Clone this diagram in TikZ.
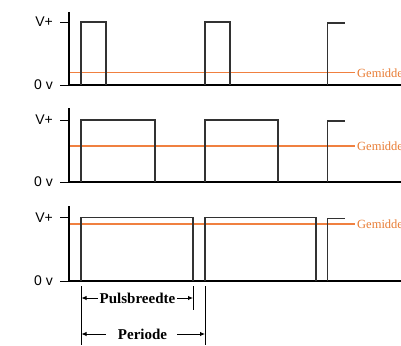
\documentclass[tikz,border=0pt]{standalone}
\usepackage{fontspec}
\setmainfont{Liberation Serif}
\newfontfamily\labelsans{Liberation Sans}
\usetikzlibrary{arrows.meta}
\definecolor{avgline}{RGB}{240,128,64}
\definecolor{avgtext}{RGB}{232,124,52}
\definecolor{wave}{RGB}{50,50,50}
\tikzset{
  axisline/.style={draw=black,line width=2.4pt},
  tickline/.style={draw=black,line width=0.9pt},
  waveline/.style={draw=wave,line width=1.1pt,line join=miter},
  meanline/.style={draw=avgline,line width=1.3pt},
  meanlabel/.style={text=avgtext,anchor=west,inner sep=0pt,font=\fontsize{12.5}{14}\selectfont},
  levellabel/.style={text=black,anchor=east,inner sep=0pt,font=\labelsans\fontsize{14}{16}\selectfont},
  dimlabel/.style={text=black,inner sep=0pt,font=\bfseries\fontsize{15}{17}\selectfont},
  dimline/.style={draw=black,line width=0.9pt},
  dimarrow/.style={draw=black,fill=black,line width=0.9pt,-{Latex[length=5pt,width=4.5pt]}}
}
\begin{document}
\begin{tikzpicture}[x=1pt,y=-1pt]
\useasboundingbox (0,0) rectangle (401,345);

% one panel: #1 axis top, #2 V+ level, #3 0 V level, #4 mean level,
% #5 end of first pulse, #6 end of second pulse, #7 name prefix
\newcommand{\pwmpanel}[7]{%
  \path[meanline] (69,#4) -- (355,#4);
  \node[meanlabel] (#7mean) at (357,#4) {Gemiddelde};
  \node[levellabel] (#7vp) at (53,#2) {V+};
  \node[levellabel] (#7zero) at (53,#3) {0 v};
  \path[tickline] (60,#2) -- (69,#2);
  \path[tickline] (60,#3) -- (69,#3);
  \path[axisline] (69,#1) -- (69,#3) -- (401,#3);
  \path[waveline] (81,#3) -- (81,#2) -- (#5,#2) -- (#5,#3);
  \path[waveline] (205,#3) -- (205,#2) -- (#6,#2) -- (#6,#3);
  \path[waveline] (327.5,#3) -- (327.5,#2+1) -- (345,#2+1);
}

\pwmpanel{12}{22}{85}{72.8}{106}{230}{a}
\pwmpanel{108}{120}{182}{146}{155}{278}{b}
\pwmpanel{206}{217.5}{281}{224}{193}{316}{c}

% dimension lines under the lower panel
\coordinate (pstart) at (81.5,286);
\coordinate (pstartend) at (81.5,345);
\coordinate (wend) at (193,286);
\coordinate (wendend) at (193,310);
\coordinate (tend) at (205,286);
\coordinate (tendend) at (205,345);
\path[dimline] (pstart) -- (pstartend);
\path[dimline] (wend) -- (wendend);
\path[dimline] (tend) -- (tendend);

\node[dimlabel] (pw) at (137.5,298) {Pulsbreedte};
\coordinate (pwl) at (81.5,298);
\coordinate (pwr) at (193,298);
\draw[dimarrow] (pw.west) ++(-2,0) -- (pwl);
\draw[dimarrow] (pw.east) ++(2,0) -- (pwr);

\node[dimlabel] (per) at (142.5,334) {Periode};
\coordinate (perl) at (81.5,334);
\coordinate (perr) at (205,334);
\draw[dimarrow] (per.west) ++(-12,0) -- (perl);
\draw[dimarrow] (per.east) ++(10,0) -- (perr);
\end{tikzpicture}
\end{document}
